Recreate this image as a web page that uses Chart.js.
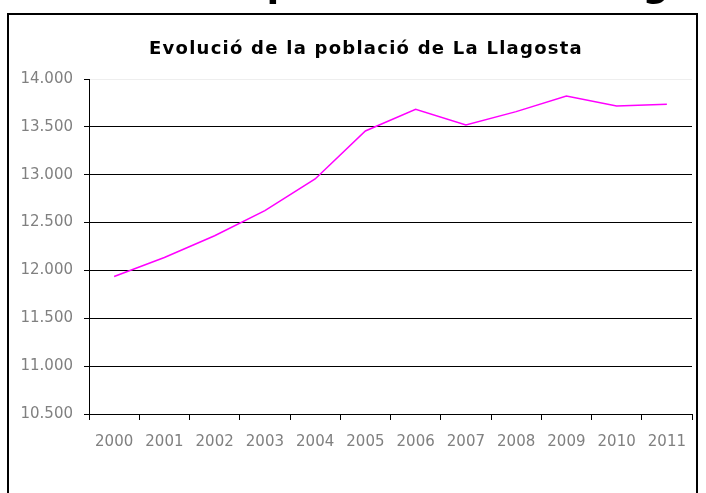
<!DOCTYPE html>
<html>
<head>
<meta charset="utf-8">
<script src="https://cdn.jsdelivr.net/npm/chart.js@4/dist/chart.umd.min.js"></script>
<style>
  html, body { margin: 0; padding: 0; background: #fff; }
  #wrap { width: 706px; height: 493px; }
</style>
</head>
<body>
<div id="wrap"><canvas id="myChart" width="706" height="493"></canvas></div>
<script>
const years = ['2000', '2001', '2002', '2003', '2004', '2005', '2006', '2007', '2008', '2009', '2010', '2011'];
const population = [11937, 12135, 12362, 12625, 12956, 13457, 13684, 13520, 13659, 13823, 13718, 13736];
const chartTitle = 'Evolució de la població de La Llagosta';
const yMin = 10500;
const yMax = 14000;
const yStep = 500;

function fmt(v) {
  return String(v).replace(/\B(?=(\d{3})+(?!\d))/g, '.');
}

// frame, cut-off heading above and chart title
const decor = {
  id: 'decor',
  beforeDraw(chart) {
    const ctx = chart.ctx;
    ctx.save();
    ctx.fillStyle = '#fff';
    ctx.fillRect(0, 0, chart.width, chart.height);
    ctx.fillStyle = '#000';
    ctx.font = 'bold 37px "DejaVu Sans"';
    ctx.textAlign = 'center';
    ctx.textBaseline = 'alphabetic';
    ctx.fillText(chartTitle, 362, -4);
    ctx.strokeStyle = '#000';
    ctx.lineWidth = 2;
    ctx.strokeRect(8, 14, 689, 520);
    ctx.font = 'bold 18px "DejaVu Sans"';
    ctx.letterSpacing = '1.25px';
    ctx.fillText(chartTitle, 366, 54);
    ctx.restore();
  }
};

const ctx = document.getElementById('myChart').getContext('2d');
new Chart(ctx, {
  type: 'line',
  data: {
    labels: years,
    datasets: [{
      label: 'Població',
      data: population,
      borderColor: '#ff00ff',
      borderWidth: 1.5,
      pointRadius: 0,
      tension: 0,
      fill: false
    }]
  },
  options: {
    responsive: false,
    animation: false,
    layout: { padding: { left: 0, right: 14, top: 79, bottom: 0 } },
    plugins: {
      legend: { display: false },
      title: { display: false },
      tooltip: { enabled: false }
    },
    scales: {
      x: {
        offset: true,
        grid: {
          offset: true,
          drawOnChartArea: false,
          drawTicks: true,
          tickLength: 6,
          tickColor: '#000'
        },
        border: { color: '#000', width: 1 },
        ticks: {
          color: '#808080',
          font: { family: 'DejaVu Sans', size: 15 },
          padding: 13,
          maxRotation: 0,
          autoSkip: false
        },
        afterFit(scale) { scale.height = 79; }
      },
      y: {
        min: yMin,
        max: yMax,
        grid: {
          color: (c) => (c.tick && c.tick.value === yMax ? '#eeeeee' : '#000'),
          tickColor: '#000',
          tickLength: 5,
          lineWidth: 1
        },
        border: { color: '#000', width: 1 },
        ticks: {
          stepSize: yStep,
          color: '#808080',
          font: { family: 'DejaVu Sans', size: 15 },
          padding: 11,
          callback: (v) => fmt(v)
        },
        afterFit(scale) { scale.width = 89; }
      }
    }
  },
  plugins: [decor]
});
</script>
</body>
</html>
